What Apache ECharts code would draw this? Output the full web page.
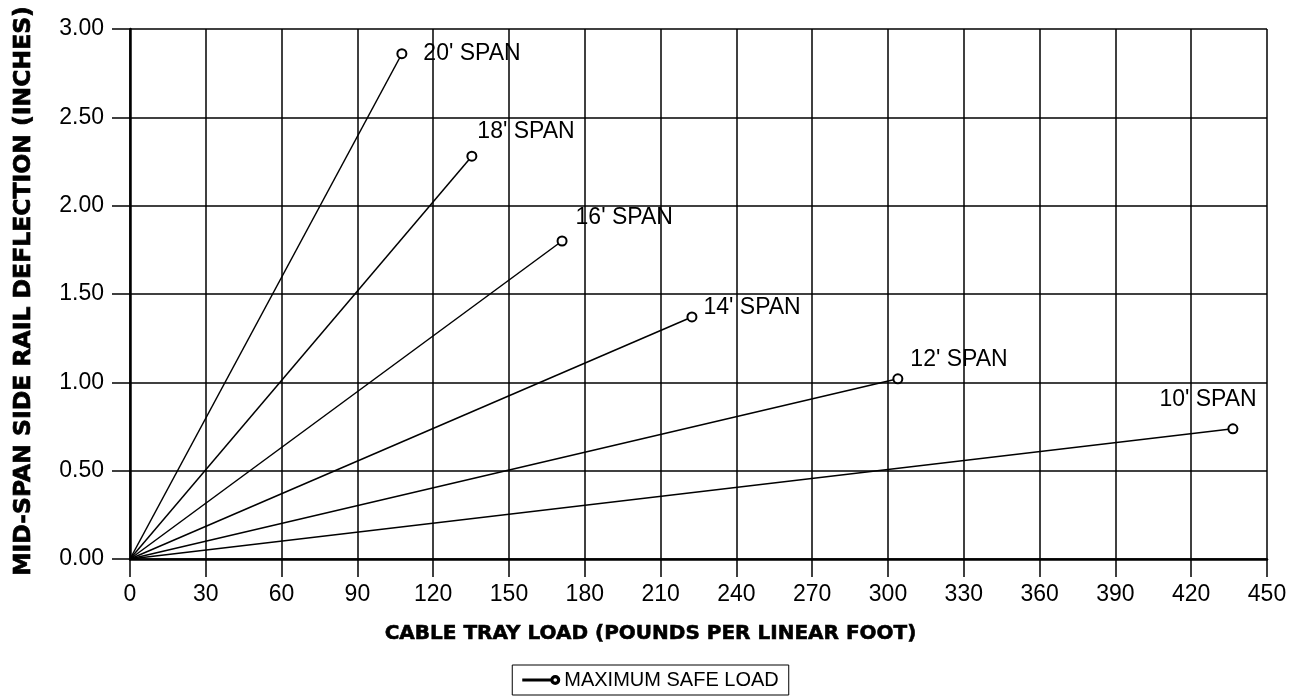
<!DOCTYPE html>
<html>
<head>
<meta charset="utf-8">
<script src="https://cdn.jsdelivr.net/npm/echarts@6/dist/echarts.min.js"></script>
<style>
  html, body { margin: 0; padding: 0; background: #fff; }
  #container { width: 1301px; height: 696px; }
</style>
</head>
<body>
<div id="container"></div>
<script>
var dom = document.getElementById("container");
var myChart = echarts.init(dom);

// span curves: end point of each line (max safe load, deflection)
var spanNames = ["20' SPAN", "18' SPAN", "16' SPAN", "14' SPAN", "12' SPAN", "10' SPAN"];
var maxLoad = [107.6, 135.3, 171, 222.4, 303.9, 436.5];
var deflection = [2.86, 2.28, 1.80, 1.37, 1.02, 0.737];

var xTicks = { min: 0, max: 450, step: 30 };
var yTicks = { min: 0, max: 3, step: 0.5 };

// label offsets per span, in px from the marker (layout only)
var labelOffset = [[16, 0], [0, -25], [8, -23], [6, -9], [7, -19], [-79, -29]];

var FONT = 'Liberation Sans, Arial, sans-serif';
var TITLE_FONT = 'DejaVu Sans, Liberation Sans, sans-serif';

var series = spanNames.map(function (name, i) {
    return {
        name: 'MAXIMUM SAFE LOAD',
        type: 'line',
        silent: true,
        data: [
            { value: [0, 0], symbol: 'none', label: { show: false } },
            {
                value: [maxLoad[i], deflection[i]],
                label: {
                    show: true,
                    formatter: name,
                    position: 'right',
                    offset: labelOffset[i],
                    distance: 0,
                    color: '#000',
                    fontFamily: FONT,
                    fontSize: 23
                }
            }
        ],
        symbol: 'emptyCircle',
        symbolSize: 9,
        itemStyle: { color: '#000', borderColor: '#000', borderWidth: 1.5 },
        lineStyle: { color: '#000', width: 1.5 },
        z: 5
    };
});

var option = {
    animation: false,
    backgroundColor: '#fff',
    grid: { left: 130, right: 34, top: 29, bottom: 137, outerBoundsMode: 'none' },
    legend: {
        data: [{
            name: 'MAXIMUM SAFE LOAD',
            icon: 'path://M0,4.5 L28,4.5 L28,5.5 L0,5.5 Z M28,5 a4,4 0 1,0 8,0 a4,4 0 1,0 -8,0 Z M29.2,5 a2.8,2.8 0 1,1 5.6,0 a2.8,2.8 0 1,1 -5.6,0 Z'
        }],
        left: 'center',
        bottom: 1,
        itemWidth: 36,
        itemHeight: 10,
        itemGap: 6,
        padding: [5, 10, 5, 10],
        borderColor: '#000',
        borderWidth: 1,
        borderRadius: 0,
        selectedMode: false,
        textStyle: { color: '#000', fontFamily: FONT, fontSize: 20 }
    },
    xAxis: {
        type: 'value',
        min: xTicks.min,
        max: xTicks.max,
        interval: xTicks.step,
        name: 'CABLE TRAY LOAD (POUNDS PER LINEAR FOOT)',
        nameLocation: 'middle',
        nameGap: 65,
        nameTextStyle: {
            color: '#000', fontFamily: TITLE_FONT, fontSize: 20, fontWeight: 'bold',
            textBorderColor: '#000', textBorderWidth: 0.6,
            padding: [0, 96, 0, 0]
        },
        axisLine: { show: true, onZero: false, lineStyle: { color: '#000', width: 2.5 } },
        axisTick: { show: true, length: 18, lineStyle: { color: '#000', width: 1.5 } },
        axisLabel: { color: '#000', fontFamily: FONT, fontSize: 23, margin: 24 },
        splitLine: { show: true, lineStyle: { color: '#000', width: 1.5 } }
    },
    yAxis: {
        type: 'value',
        min: yTicks.min,
        max: yTicks.max,
        interval: yTicks.step,
        name: 'MID-SPAN SIDE RAIL DEFLECTION (INCHES)',
        nameLocation: 'middle',
        nameGap: 94,
        nameTextStyle: {
            color: '#000', fontFamily: TITLE_FONT, fontSize: 23.5, fontWeight: 'bold',
            textBorderColor: '#000', textBorderWidth: 0.7,
            padding: [0, 0, 0, 6]
        },
        axisLine: { show: true, onZero: false, lineStyle: { color: '#000', width: 2.5 } },
        axisTick: { show: true, length: 18, lineStyle: { color: '#000', width: 1.5 } },
        axisLabel: {
            color: '#000', fontFamily: FONT, fontSize: 23, margin: 26,
            formatter: function (v) { return v.toFixed(2); }
        },
        splitLine: { show: true, lineStyle: { color: '#000', width: 1.5 } }
    },
    series: series
};

if (option && typeof option === "object") {
    myChart.setOption(option, false);
}
</script>
</body>
</html>
